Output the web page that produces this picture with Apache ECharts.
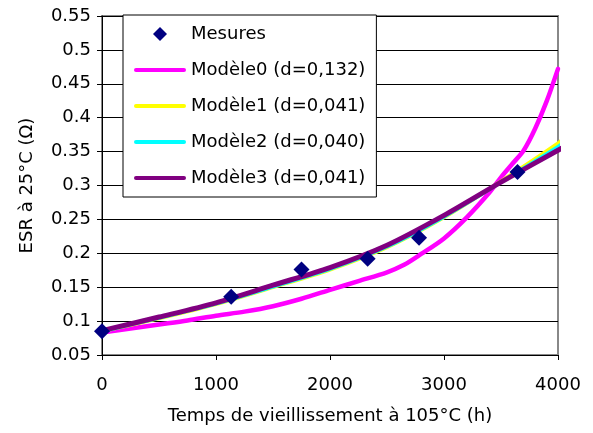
<!DOCTYPE html>
<html><head><meta charset="utf-8">
<script src="https://cdn.jsdelivr.net/npm/echarts@6/dist/echarts.min.js"></script>
<style>html,body{margin:0;padding:0;background:#fff}#c{width:593px;height:433px}</style>
</head><body><div id="c"></div>
<script>
var measX = [0, 1133, 1750, 2330, 2781, 3645];
var measY = [0.085, 0.136, 0.176, 0.192, 0.223, 0.320];

var m0X = [0, 250, 500, 750, 1000, 1250, 1500, 1750, 2000, 2250, 2500, 2650, 2800, 3000, 3200, 3400, 3500, 3600, 3700, 3800, 3900, 4000];
var m0Y = [0.083, 0.089, 0.095, 0.101, 0.108, 0.114, 0.122, 0.133, 0.146, 0.159, 0.172, 0.183, 0.199, 0.222, 0.253, 0.290, 0.312, 0.332, 0.352, 0.384, 0.424, 0.472];

var modelX = [0, 500, 1000, 1500, 2000, 2500, 3000, 3500, 4000, 4065];
var m1Y = [0.085, 0.104, 0.125, 0.150, 0.176, 0.209, 0.253, 0.306, 0.362, 0.372];
var m2Y = [0.085, 0.105, 0.126, 0.151, 0.177, 0.210, 0.254, 0.305, 0.357, 0.365];
var m3Y = [0.086, 0.106, 0.127, 0.153, 0.179, 0.212, 0.256, 0.305, 0.352, 0.358];

var names = ['Mesures', 'Modèle0 (d=0,132)', 'Modèle1 (d=0,041)', 'Modèle2 (d=0,040)', 'Modèle3 (d=0,041)'];
var xTitle = 'Temps de vieillissement à 105°C (h)';
var yTitle = 'ESR à 25°C (Ω)';

function pairs(xs, ys) { return xs.map(function (x, i) { return [x, ys[i]]; }); }

var FONT = 'DejaVu Sans';
var chart = echarts.init(document.getElementById('c'), null, { renderer: 'canvas' });

function lineSeries(name, xs, ys, color, w, z) {
  return {
    name: name, type: 'line', data: pairs(xs, ys), smooth: 0.3, symbol: 'none',
    clip: false, z: z,
    lineStyle: { color: color, width: w, cap: 'round', join: 'round' },
    itemStyle: { color: color }
  };
}
var LINE_ICON = 'path://M2,0 L50,0 A2,2 0 0 1 50,4 L2,4 A2,2 0 0 1 2,0 Z';

chart.setOption({
  animation: false,
  backgroundColor: '#fff',
  textStyle: { fontFamily: FONT },
  grid: { left: 102, right: 35, top: 16, bottom: 78, show: true, borderColor: '#888', borderWidth: 2, backgroundColor: '#fff' },
  xAxis: {
    type: 'value', min: 0, max: 4000, interval: 1000,
    name: xTitle, nameLocation: 'middle', nameGap: 52,
    nameTextStyle: { fontFamily: FONT, fontSize: 18, color: '#000' },
    axisLine: { show: true, onZero: false, lineStyle: { color: '#000', width: 1 } },
    axisTick: { show: true, inside: false, length: 5, lineStyle: { color: '#000' } },
    axisLabel: { fontFamily: FONT, fontSize: 18, color: '#000', margin: 21,
      formatter: function (v) { return String(v); } },
    splitLine: { show: false }
  },
  yAxis: {
    type: 'value', min: 0.05, max: 0.55, interval: 0.05,
    name: yTitle, nameLocation: 'middle', nameGap: 66,
    nameTextStyle: { fontFamily: FONT, fontSize: 18, color: '#000' },
    axisLine: { show: true, onZero: false, lineStyle: { color: '#000', width: 1 } },
    axisTick: { show: true, inside: false, length: 5, lineStyle: { color: '#000' } },
    axisLabel: { fontFamily: FONT, fontSize: 18, color: '#000', margin: 11,
      formatter: function (v) { return String(parseFloat(v.toFixed(2))); } },
    splitLine: { show: true, lineStyle: { color: '#000', width: 1 } }
  },
  legend: {
    orient: 'vertical', left: 123, top: 15,
    padding: [9, 11, 9, 11],
    backgroundColor: '#fff', borderColor: '#000', borderWidth: 1,
    itemWidth: 52, itemHeight: 14, itemGap: 16,
    textStyle: { fontFamily: FONT, fontSize: 18, color: '#000', lineHeight: 20 },
    data: [
      { name: names[0], icon: 'path://M7,0 L14,7 L7,14 L0,7 Z' },
      { name: names[1], icon: LINE_ICON },
      { name: names[2], icon: LINE_ICON },
      { name: names[3], icon: LINE_ICON },
      { name: names[4], icon: LINE_ICON }
    ]
  },
  series: [
    lineSeries(names[1], m0X, m0Y, '#FF00FF', 4.5, 2),
    lineSeries(names[2], modelX, m1Y, '#FFFF00', 4, 3),
    lineSeries(names[3], modelX, m2Y, '#00FFFF', 4, 4),
    lineSeries(names[4], modelX, m3Y, '#800080', 5, 5),
    {
      name: names[0], type: 'scatter', data: pairs(measX, measY),
      symbol: 'diamond', symbolSize: 16, z: 10, clip: false,
      itemStyle: { color: '#000080', opacity: 1 }
    }
  ]
});
</script></body></html>
